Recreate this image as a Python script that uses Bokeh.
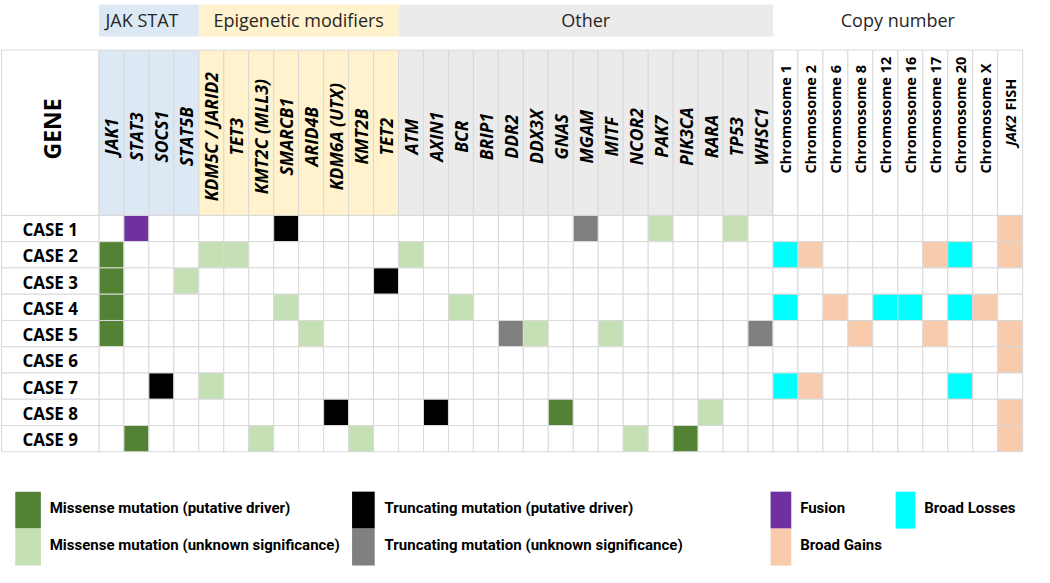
import math
from bokeh.plotting import figure
from bokeh.models import ColumnDataSource, Range1d
from bokeh.core.properties import value
from bokeh.embed import file_html
from bokeh.resources import INLINE

# ---------------- data ----------------
genes = ["JAK1", "STAT3", "SOCS1", "STAT5B",
         "KDM5C / JARID2", "TET3", "KMT2C (MLL3)", "SMARCB1", "ARID4B", "KDM6A (UTX)", "KMT2B", "TET2",
         "ATM", "AXIN1", "BCR", "BRIP1", "DDR2", "DDX3X", "GNAS", "MGAM", "MITF", "NCOR2", "PAK7",
         "PIK3CA", "RARA", "TP53", "WHSC1",
         "Chromosome 1", "Chromosome 2", "Chromosome 6", "Chromosome 8", "Chromosome 12",
         "Chromosome 16", "Chromosome 17", "Chromosome 20", "Chromosome X", "JAK2 FISH"]
group_names = ["JAK STAT", "Epigenetic modifiers", "Other", "Copy number"]
group_sizes = [4, 8, 15, 10]
cases = ["CASE 1", "CASE 2", "CASE 3", "CASE 4", "CASE 5", "CASE 6", "CASE 7", "CASE 8", "CASE 9"]

# MD missense driver, MU missense unknown, TD truncating driver, TU truncating unknown,
# F fusion, G broad gain, L broad loss
case_1 = {"STAT3": "F", "SMARCB1": "TD", "MGAM": "TU", "PAK7": "MU", "TP53": "MU", "JAK2 FISH": "G"}
case_2 = {"JAK1": "MD", "KDM5C / JARID2": "MU", "TET3": "MU", "ATM": "MU", "Chromosome 1": "L",
          "Chromosome 2": "G", "Chromosome 17": "G", "Chromosome 20": "L", "JAK2 FISH": "G"}
case_3 = {"JAK1": "MD", "STAT5B": "MU", "TET2": "TD"}
case_4 = {"JAK1": "MD", "SMARCB1": "MU", "BCR": "MU", "Chromosome 1": "L", "Chromosome 6": "G",
          "Chromosome 12": "L", "Chromosome 16": "L", "Chromosome 20": "L", "Chromosome X": "G"}
case_5 = {"JAK1": "MD", "ARID4B": "MU", "DDR2": "TU", "DDX3X": "MU", "MITF": "MU", "WHSC1": "TU",
          "Chromosome 8": "G", "Chromosome 17": "G", "JAK2 FISH": "G"}
case_6 = {"JAK2 FISH": "G"}
case_7 = {"SOCS1": "TD", "KDM5C / JARID2": "MU", "Chromosome 1": "L", "Chromosome 2": "G",
          "Chromosome 20": "L"}
case_8 = {"KDM6A (UTX)": "TD", "AXIN1": "TD", "GNAS": "MD", "RARA": "MU", "JAK2 FISH": "G"}
case_9 = {"STAT3": "MD", "KMT2C (MLL3)": "MU", "KMT2B": "MU", "NCOR2": "MU", "PIK3CA": "MD",
          "JAK2 FISH": "G"}
case_events = [case_1, case_2, case_3, case_4, case_5, case_6, case_7, case_8, case_9]

legend_codes = ["MD", "MU", "TD", "TU", "F", "G", "L"]
legend_labels = ["Missense mutation (putative driver)", "Missense mutation (unknown significance)",
                 "Truncating mutation (putative driver)", "Truncating mutation (unknown significance)",
                 "Fusion", "Broad Gains", "Broad Losses"]

# ---------------- styles ----------------
code_colors = {"MD": "#548235", "MU": "#C5E0B4", "TD": "#000000", "TU": "#808080",
               "F": "#7030A0", "G": "#F8CBAD", "L": "#00FFFF", "": "#FFFFFF"}
group_colors = {"JAK STAT": "#DDE8F5", "Epigenetic modifiers": "#FFF2CC", "Other": "#EBEBEB",
                "Copy number": "#FFFFFF"}
GRID = "#D9D9D9"
FONT = "Open Sans"

# layout (reference pixel space, 1050 x 583)
X0, CW = 100.0, 25.35
Y0, RH = 221.0, 27.0
HY = 51.0
LX = 1.0
BY0, BY1 = 4.0, 37.0
ncol = len(genes)

p = figure(width=1034, height=567, x_range=Range1d(0, 1050), y_range=Range1d(583, 0),
           output_backend="svg", toolbar_location=None, min_border=0)
p.axis.visible = False
p.grid.visible = False
p.outline_line_color = None
p.background_fill_color = "white"

# group of each column
col_group = []
for g, n in zip(group_names, group_sizes):
    col_group += [g] * n

# ---- group bands ----
band_l, band_r, band_c, band_name, band_col = [], [], [], [], []
start = 0
for g, n in zip(group_names, group_sizes):
    l = X0 + start * CW
    r = X0 + (start + n) * CW
    band_l.append(l); band_r.append(r); band_c.append((l + r) / 2)
    band_name.append(g); band_col.append(group_colors[g])
    start += n
band_c[0] -= 7
p.quad(left=band_l, right=band_r, top=[BY0] * 4, bottom=[BY1] * 4, fill_color=band_col,
       line_color=None)
p.text(x=band_c, y=[(BY0 + BY1) / 2] * 4, text=band_name, text_align="center",
       text_baseline="middle", text_font=value(FONT), text_font_size="18px", text_color="#262626")

# ---- header cells ----
hl = [X0 + i * CW for i in range(ncol)]
hr = [X0 + (i + 1) * CW for i in range(ncol)]
p.quad(left=[LX] + hl, right=[X0] + hr, top=[HY] * (ncol + 1), bottom=[Y0] * (ncol + 1),
       fill_color=["#FFFFFF"] + [group_colors[g] for g in col_group], line_color=GRID, line_width=1)

p.text(x=[(LX + X0) / 2 + 2], y=[(HY + Y0) / 2 - 4], text=["GENE"], angle=math.pi / 2,
       text_align="center", text_baseline="middle", text_font=value(FONT),
       text_font_style="bold", text_font_size="23px", text_color="black")

# gene labels
mut_idx = [i for i, g in enumerate(genes) if not g.startswith("Chromosome") and g != "JAK2 FISH"]
p.text(x=[X0 + (i + 0.5) * CW for i in mut_idx], y=[(HY + Y0) / 2 + 4] * len(mut_idx),
       text=[genes[i] for i in mut_idx], angle=math.pi / 2, text_align="center",
       text_baseline="middle", text_font=value(FONT), text_font_style="bold italic",
       text_font_size="17.5px", text_color="black")
chr_idx = [i for i, g in enumerate(genes) if g.startswith("Chromosome")]
p.text(x=[X0 + (i + 0.5) * CW for i in chr_idx], y=[178] * len(chr_idx),
       text=[genes[i] for i in chr_idx], angle=math.pi / 2, text_align="left",
       text_baseline="middle", text_font=value(FONT), text_font_style="bold",
       text_font_size="14.5px", text_color="black")
fish_i = genes.index("JAK2 FISH")
fish_parts = genes[fish_i].split(" ")
p.text(x=[X0 + (fish_i + 0.5) * CW], y=[118], text=[fish_parts[0]], angle=math.pi / 2,
       text_align="right", text_baseline="middle", text_font=value(FONT),
       text_font_style="bold italic", text_font_size="14.5px", text_color="black")
p.text(x=[X0 + (fish_i + 0.5) * CW], y=[113], text=[fish_parts[1]], angle=math.pi / 2,
       text_align="left", text_baseline="middle", text_font=value(FONT),
       text_font_style="bold", text_font_size="14.5px", text_color="black")

# ---- body cells ----
cl, cr, ct, cb, cc = [], [], [], [], []
for r, ev in enumerate(case_events):
    for i, g in enumerate(genes):
        cl.append(X0 + i * CW); cr.append(X0 + (i + 1) * CW)
        ct.append(Y0 + r * RH); cb.append(Y0 + (r + 1) * RH)
        cc.append(code_colors[ev.get(g, "")])
src = ColumnDataSource(dict(left=cl, right=cr, top=ct, bottom=cb, color=cc))
p.quad(left="left", right="right", top="top", bottom="bottom", fill_color="color",
       line_color=GRID, line_width=1, source=src)

# row label cells
nr = len(cases)
p.quad(left=[LX] * nr, right=[X0] * nr, top=[Y0 + r * RH for r in range(nr)],
       bottom=[Y0 + (r + 1) * RH for r in range(nr)], fill_color="white", line_color=GRID)
p.text(x=[(LX + X0) / 2] * nr, y=[Y0 + (r + 0.5) * RH + 1 for r in range(nr)], text=cases,
       text_align="center", text_baseline="middle", text_font=value(FONT),
       text_font_style="bold", text_font_size="17px", text_color="black")

# ---- legend ----
sw_x = [15, 15, 357, 357, 782, 782, 909]
sw_w = [26, 26, 23, 23, 21, 21, 20]
tx_x = [50, 50, 390, 390, 812, 812, 938]
row_top = [505, 543]
row_h = 38
lrow = [0, 1, 0, 1, 0, 1, 0]
p.quad(left=sw_x, right=[a + b for a, b in zip(sw_x, sw_w)],
       top=[row_top[k] for k in lrow], bottom=[row_top[k] + row_h for k in lrow],
       fill_color=[code_colors[c] for c in legend_codes], line_color=None)
p.text(x=tx_x, y=[row_top[k] + row_h / 2 - 2 for k in lrow], text=legend_labels,
       text_align="left", text_baseline="middle", text_font=value("Roboto"),
       text_font_style="bold", text_font_size="15px", text_color="black")

open("out.html", "w").write(file_html(p, INLINE))
